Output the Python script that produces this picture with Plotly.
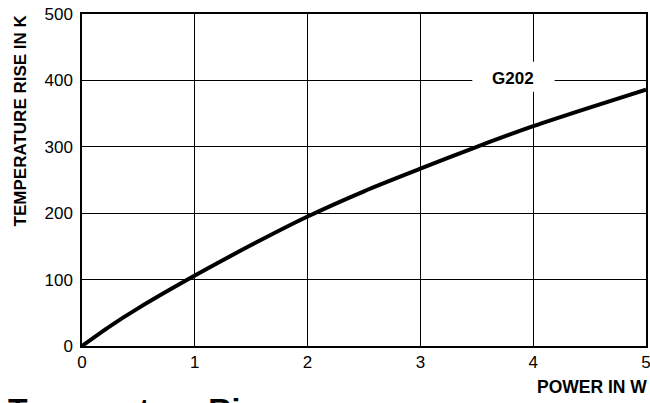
import plotly.graph_objects as go

# Data
power_w = [0, 0.25, 0.5, 1.0, 1.5, 2.0, 2.5, 3.0, 3.5, 4.0, 4.5, 5.0]
temp_rise_k = [0, 30, 57, 106, 152, 195, 233, 267, 300, 331, 359, 386]
x_ticks = [0, 1, 2, 3, 4, 5]
y_ticks = [0, 100, 200, 300, 400, 500]
series_label = "G202"

W, H = 650, 403
L, R, T, B = 81.5, 4, 14, 56.5
pw, ph = W - L - R, H - T - B

def px_x(p):
    return (p - L) / pw

def px_y(p):
    return 1 - (p - T) / ph

FONT = "Liberation Sans, Arial, Helvetica, sans-serif"

fig = go.Figure()
fig.add_trace(go.Scatter(
    x=power_w, y=temp_rise_k, mode="lines",
    line=dict(color="black", width=4, shape="spline", smoothing=0.8),
    showlegend=False, hoverinfo="skip",
))

# white box behind the series label (interrupts gridlines)
fig.add_shape(type="rect", xref="x", yref="y", x0=3.46, x1=4.19, y0=383, y1=428,
              fillcolor="white", line=dict(width=0), layer="above")
fig.add_annotation(x=3.82, y=403, xref="x", yref="y", text="<b>" + series_label + "</b>",
                   showarrow=False, font=dict(family=FONT, size=17, color="black"))

fig.add_annotation(x=px_x(20), y=px_y(121), xref="paper", yref="paper",
                   text="<b>TEMPERATURE RISE IN K</b>", textangle=-90, showarrow=False,
                   xanchor="center", yanchor="middle",
                   font=dict(family=FONT, size=17, color="black"))
fig.add_annotation(x=px_x(649), y=px_y(388), xref="paper", yref="paper",
                   text="<b>POWER IN W</b>", showarrow=False,
                   xanchor="right", yanchor="middle",
                   font=dict(family=FONT, size=17.5, color="black"))
fig.add_annotation(x=px_x(5), y=px_y(391), xref="paper", yref="paper",
                   text="<b>Temperature Rise</b>", showarrow=False,
                   xanchor="left", yanchor="top",
                   font=dict(family=FONT, size=32, color="black"))

fig.update_layout(
    width=W, height=H, template="none",
    margin=dict(l=L, r=R, t=T, b=B, pad=0),
    paper_bgcolor="white", plot_bgcolor="white",
    font=dict(family=FONT, size=17, color="black"),
    showlegend=False,
)
fig.update_xaxes(range=[0, 5], tickvals=x_ticks, ticktext=[str(v) for v in x_ticks],
                 showgrid=True, gridcolor="black", gridwidth=1,
                 showline=True, linecolor="black", linewidth=1.5, mirror=True,
                 zeroline=False, ticks="", automargin=False, ticklabeloverflow="allow",
                 tickfont=dict(family=FONT, size=17))
fig.update_yaxes(range=[0, 500], tickvals=y_ticks, ticktext=[str(v) for v in y_ticks],
                 showgrid=True, gridcolor="black", gridwidth=1,
                 showline=True, linecolor="black", linewidth=1.5, mirror=True,
                 zeroline=False, ticks="", automargin=False, ticklabelstandoff=4,
                 ticklabeloverflow="allow",
                 tickfont=dict(family=FONT, size=17))

fig.write_html("out.html", config={"displayModeBar": False},
               post_script="document.body.style.margin='0';document.body.style.overflow='hidden';")
